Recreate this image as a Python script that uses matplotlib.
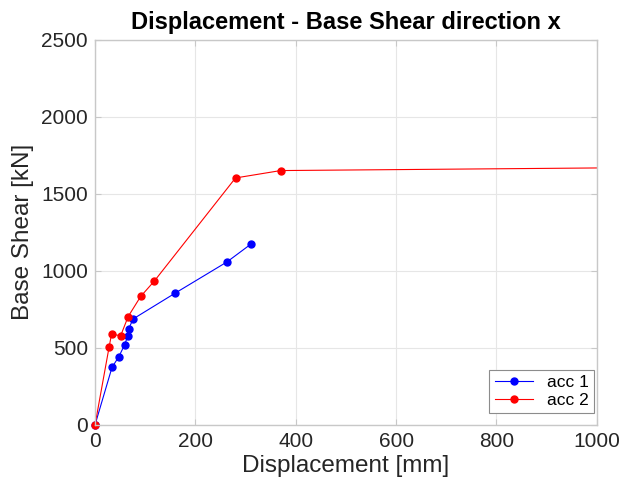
import numpy as np
import matplotlib.pyplot as plt

plt.rcParams['font.family'] = ['Liberation Sans', 'DejaVu Sans']

# data
disp_acc1 = [0, 34, 47, 59, 65, 67, 76, 160, 263, 310]
shear_acc1 = [0, 375, 440, 520, 575, 623, 688, 856, 1058, 1172]

disp_acc2 = [0, 28, 33, 51, 66, 91, 118, 280, 370, 1300]
shear_acc2 = [0, 504, 591, 578, 703, 834, 933, 1603, 1651, 1676]

xticks = [0, 200, 400, 600, 800, 1000]
yticks = [0, 500, 1000, 1500, 2000, 2500]

txt = '#262626'
edge = '#c8c8c8'

fig = plt.figure(figsize=(6.21, 4.97), dpi=100)
ax = fig.add_axes([0.153, 0.145, 0.808, 0.775])

ax.plot(disp_acc1, shear_acc1, color='blue', lw=0.8, marker='o', ms=5,
        label='acc 1')
ax.plot(disp_acc2, shear_acc2, color='red', lw=0.8, marker='o', ms=5,
        label='acc 2')
# the markers at the origin sit on the axes corner, draw them unclipped
ax.plot(disp_acc1[:1], shear_acc1[:1], 'o', color='blue', ms=5, clip_on=False)
ax.plot(disp_acc2[:1], shear_acc2[:1], 'o', color='red', ms=5, clip_on=False)

ax.set_xlim(0, 1000)
ax.set_ylim(0, 2500)
ax.set_xticks(xticks)
ax.set_yticks(yticks)
ax.grid(True, color='#e6e6e6', lw=0.8)
ax.set_axisbelow(True)
ax.tick_params(direction='in', length=4, colors=edge, labelcolor=txt,
               labelsize=15, pad=5, top=True, right=True)
for s in ax.spines.values():
    s.set_color(edge)
    s.set_linewidth(1.0)

ax.set_title('Displacement - Base Shear direction x', fontsize=17,
             fontweight='bold', color='black', pad=8)
ax.set_xlabel('Displacement [mm]', fontsize=17.5, color=txt, labelpad=3)
ax.set_ylabel('Base Shear [kN]', fontsize=17.5, color=txt, labelpad=5)

leg = ax.legend(loc='lower right', fontsize=12.5, fancybox=False,
                edgecolor='#8c8c8c', framealpha=1, borderpad=0.3,
                handlelength=2.2, labelspacing=0.15, borderaxespad=0,
                bbox_to_anchor=(0.994, 0.031))
leg.get_frame().set_linewidth(0.8)

fig.savefig('out.png', dpi=100)
